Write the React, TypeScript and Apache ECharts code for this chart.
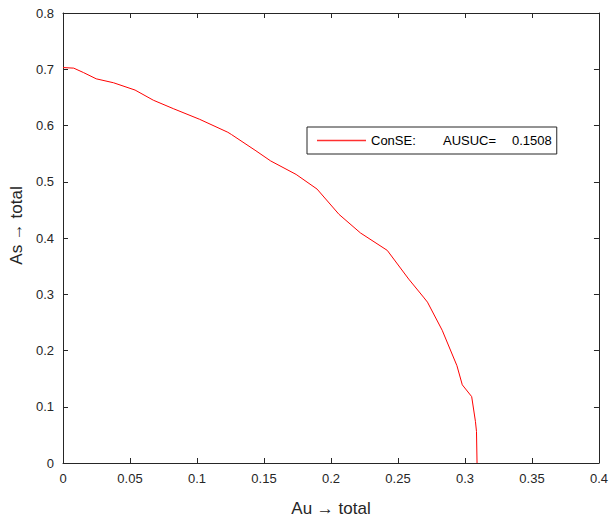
import React, { useEffect, useRef } from "react";
import * as echarts from "echarts";

const auValues = [0, 0.008, 0.0154, 0.0248, 0.0377, 0.0538, 0.0674, 0.0823, 0.102, 0.123, 0.1257, 0.144, 0.155, 0.174, 0.1896, 0.206, 0.222, 0.242, 0.258, 0.269, 0.272, 0.283, 0.294, 0.298, 0.305, 0.3078, 0.3086, 0.309];
const asValues = [0.703, 0.702, 0.694, 0.683, 0.676, 0.663, 0.645, 0.63, 0.611, 0.588, 0.584, 0.555, 0.537, 0.513, 0.487, 0.442, 0.409, 0.378, 0.327, 0.295, 0.286, 0.236, 0.173, 0.139, 0.118, 0.074, 0.056, 0];
const seriesName = "ConSE";
const ausuc = "0.1508";
const xTitle = "Au \u2192 total";
const yTitle = "As \u2192 total";

const FONT = "'Liberation Sans', Arial, Helvetica, sans-serif";
const INK = "#262626";

export default function App() {
  const ref = useRef<HTMLDivElement>(null);
  useEffect(() => {
    if (!ref.current) return;
    const chart = echarts.init(ref.current, undefined, { renderer: "svg" });
    const data = auValues.map((x, i) => [x, asValues[i]]);
    const axisCommon = {
      type: "value" as const,
      axisLine: { show: true, onZero: false, lineStyle: { color: INK, width: 1 } },
      axisTick: { show: true, inside: true, length: 5, lineStyle: { color: INK } },
      splitLine: { show: false },
    };
    chart.setOption({
      animation: false,
      backgroundColor: "#ffffff",
      textStyle: { fontFamily: FONT },
      grid: { left: 61, right: 12, top: 13, bottom: 57 },
      legend: {
        show: true,
        left: 307,
        top: 127,
        orient: "horizontal",
        backgroundColor: "#ffffff",
        borderColor: INK,
        borderWidth: 1,
        borderRadius: 0,
        padding: [7, 5, 7, 10],
        itemWidth: 49,
        itemHeight: 1.5,
        itemGap: 5,
        icon: "rect",
        data: [{ name: seriesName, itemStyle: { color: "#ff3030" } }],
        formatter: () => `{a|${seriesName}:}{b|AUSUC=}{c|${ausuc}}`,
        textStyle: {
          fontFamily: FONT,
          fontSize: 13,
          color: "#000000",
          rich: {
            a: { width: 72, fontSize: 13, fontFamily: FONT, color: "#000" },
            b: { width: 69, fontSize: 13, fontFamily: FONT, color: "#000" },
            c: { width: 45, fontSize: 13, fontFamily: FONT, color: "#000" },
          },
        },
      },
      xAxis: [
        {
          ...axisCommon,
          position: "bottom",
          min: 0,
          max: 0.4,
          interval: 0.05,
          name: xTitle,
          nameLocation: "middle",
          nameGap: 37,
          nameTextStyle: { fontSize: 17, color: INK, fontFamily: FONT },
          axisLabel: { show: true, fontSize: 13, color: INK, margin: 9, fontFamily: FONT, formatter: (v: number) => String(+v.toFixed(2)) },
        },
        {
          ...axisCommon,
          position: "top",
          min: 0,
          max: 0.4,
          interval: 0.05,
          axisLabel: { show: false },
        },
      ],
      yAxis: [
        {
          ...axisCommon,
          position: "left",
          min: 0,
          max: 0.8,
          interval: 0.1,
          name: yTitle,
          nameLocation: "middle",
          nameGap: 38,
          nameTextStyle: { fontSize: 17, color: INK, fontFamily: FONT, padding: [0, 0, 0, 25] },
          axisLabel: { show: true, fontSize: 13, color: INK, margin: 9, fontFamily: FONT, formatter: (v: number) => String(+v.toFixed(1)) },
        },
        {
          ...axisCommon,
          position: "right",
          min: 0,
          max: 0.8,
          interval: 0.1,
          axisLabel: { show: false },
        },
      ],
      series: [
        {
          name: seriesName,
          type: "line",
          data,
          xAxisIndex: 0,
          yAxisIndex: 0,
          showSymbol: false,
          symbol: "none",
          lineStyle: { color: "#ff0000", width: 1 },
          itemStyle: { color: "#ff0000" },
        },
      ],
    });
    return () => chart.dispose();
  }, []);
  return (
    <div
      ref={ref}
      style={{ position: "fixed", left: 0, top: 0, width: 611, height: 522, background: "#fff" }}
    />
  );
}
